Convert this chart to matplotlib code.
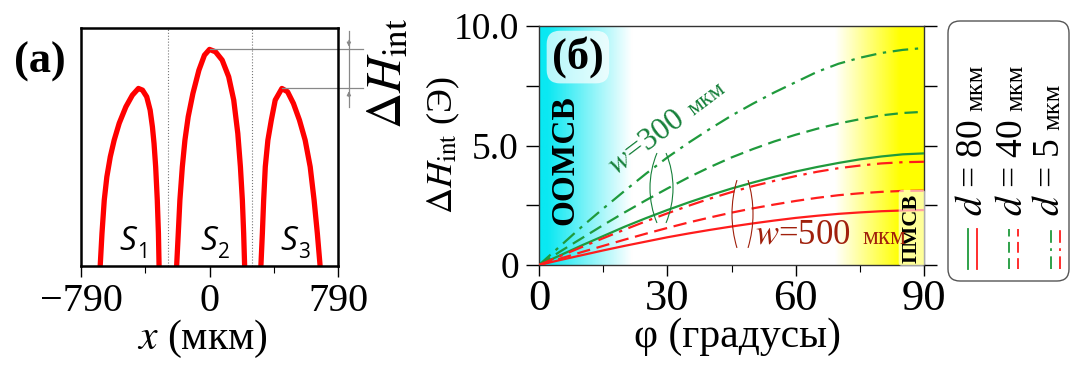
import numpy as np
import matplotlib
matplotlib.use("Agg")
import matplotlib.pyplot as plt
import matplotlib.transforms as mtransforms
from matplotlib.colors import LinearSegmentedColormap
from matplotlib.patches import Arc, FancyBboxPatch
from matplotlib.lines import Line2D

plt.rcParams['font.family'] = ['Liberation Serif', 'DejaVu Serif']
plt.rcParams['mathtext.fontset'] = 'stix'

# ---- panel (a): field profiles over the three strips (x in um, normalised H)
s1_x = [-672, -661, -647, -631, -610, -586, -555, -514, -474, -437, -412, -386,
        -365, -351, -341, -331, -321, -314, -310]
s1_y = [0, 0.137, 0.277, 0.375, 0.459, 0.529, 0.600, 0.669, 0.718, 0.746, 0.739,
        0.711, 0.655, 0.585, 0.515, 0.417, 0.277, 0.137, 0]
s2_x = [-202, -192, -182, -167, -151, -131, -102, -65, -31, 0, 37, 78, 118, 149,
        174, 190, 202, 210, 216]
s2_y = [0, 0.137, 0.277, 0.417, 0.529, 0.627, 0.725, 0.823, 0.886, 0.910, 0.900,
        0.865, 0.795, 0.697, 0.557, 0.417, 0.277, 0.137, 0]
s3_x = [316, 325, 333, 343, 359, 380, 404, 445, 480, 516, 553, 588, 619, 643, 663, 680]
s3_y = [0, 0.137, 0.277, 0.417, 0.529, 0.613, 0.697, 0.746, 0.732, 0.683, 0.613,
        0.529, 0.417, 0.277, 0.137, 0]
strip_labels = ['1', '2', '3']
strip_gaps = [-257, 263]

# ---- panel (b): dH_int vs angle phi (degrees)
phi = [0, 5, 10, 15, 20, 25, 30, 35, 40, 45, 50, 55, 60, 65, 70, 75, 80, 85, 90]
green_80 = [0, 0.41, 0.82, 1.21, 1.6, 1.96, 2.3, 2.62, 2.92, 3.2, 3.45, 3.69, 3.91,
            4.1, 4.27, 4.42, 4.54, 4.63, 4.67]
green_40 = [0, 0.57, 1.12, 1.67, 2.2, 2.71, 3.2, 3.67, 4.1, 4.5, 4.85, 5.17, 5.45,
            5.7, 5.92, 6.1, 6.26, 6.36, 6.41]
green_5 = [0, 0.8, 1.6, 2.36, 3.1, 3.82, 4.5, 5.12, 5.7, 6.25, 6.75, 7.22, 7.65,
           8.08, 8.42, 8.67, 8.87, 9.0, 9.08]
red_80 = [0, 0.21, 0.41, 0.61, 0.8, 0.98, 1.16, 1.32, 1.47, 1.61, 1.74, 1.86, 1.97,
          2.06, 2.14, 2.2, 2.25, 2.28, 2.30]
red_40 = [0, 0.27, 0.54, 0.8, 1.06, 1.31, 1.55, 1.78, 1.99, 2.19, 2.37, 2.53, 2.68,
          2.81, 2.92, 3.0, 3.06, 3.1, 3.11]
red_5 = [0, 0.38, 0.75, 1.12, 1.48, 1.83, 2.16, 2.48, 2.78, 3.05, 3.3, 3.52, 3.72,
         3.9, 4.05, 4.16, 4.25, 4.3, 4.32]
d_labels = ['80', '40', '5']

GREEN = '#1f9a3c'
RED = '#ff1c1c'
styles = ['-', (0, (6, 3)), (0, (7, 3, 1.5, 3))]

W, H = 1072, 365
fig = plt.figure(figsize=(W / 100, H / 100), dpi=100)
T = fig.dpi_scale_trans


def fx(px):
    return px / W


def fy(py):
    return 1 - py / H


def inch(px, py):
    return px / 100, (H - py) / 100


# ================= panel (a)
axa = fig.add_axes([fx(81), fy(266), 257 / W, 238 / H])
for xs, ys in [(s1_x, s1_y), (s2_x, s2_y), (s3_x, s3_y)]:
    axa.plot(xs, ys, color='#ff0000', lw=3.8, solid_joinstyle='round')
for g in strip_gaps:
    axa.axvline(g, color='#777777', ls=':', lw=0.8)
axa.set_xlim(-790, 790)
axa.set_ylim(0, 1)
axa.set_xticks([-790, 0, 790])
axa.set_xticklabels(['\u2212790', '0', '790'])
axa.set_xticks([-395, 395], minor=True)
axa.set_yticks([])
axa.tick_params(axis='x', which='major', length=8, width=1, labelsize=29, pad=4)
axa.tick_params(axis='x', which='minor', length=5, width=0.8)
for sp in axa.spines.values():
    sp.set_linewidth(1.8)
axa.set_xlabel(r'$x$ (мкм)', fontsize=30)
axa.xaxis.set_label_coords((202 - 81) / 257, (266 - 318) / 238)

# strip labels
for xs, lab in zip([s1_x, s2_x, s3_x], strip_labels):
    xc = (xs[0] + xs[-1]) / 2
    axa.text(xc + 40, 0.067, 'S', fontfamily='Open Sans', fontsize=24,
             style='italic', ha='right', va='baseline')
    axa.text(xc + 45, 0.034, lab, fontfamily='Open Sans', fontsize=15,
             ha='left', va='baseline')

# dH_int marker
i2 = int(np.argmax(s2_y))
i3 = int(np.argmax(s3_y))
xr = 943
xv = 857
axa.plot([s2_x[i2], xr], [s2_y[i2]] * 2, color='#888888', lw=0.9, clip_on=False)
axa.plot([s3_x[i3], xr], [s3_y[i3]] * 2, color='#888888', lw=0.9, clip_on=False)
axa.plot([xv, xv], [0.987, 0.668], color='#888888', lw=0.9, clip_on=False)
axa.annotate('', xy=(xv, s2_y[i2]), xytext=(xv, 0.96), annotation_clip=False,
             arrowprops=dict(arrowstyle='-|>', color='#888888', lw=0.8, mutation_scale=6))
axa.annotate('', xy=(xv, s3_y[i3]), xytext=(xv, 0.70), annotation_clip=False,
             arrowprops=dict(arrowstyle='-|>', color='#888888', lw=0.8, mutation_scale=6))
fig.text(*inch(388, 73), r'$\Delta H_{\rm int}$', transform=T, fontsize=36,
         rotation=90, ha='center', va='center')
fig.text(*inch(40, 62), '(a)', transform=T, fontsize=32, fontweight='bold',
         ha='center', va='center')

# ================= panel (b)
axb = fig.add_axes([fx(539), fy(265), 385 / W, 239 / H])
bg = LinearSegmentedColormap.from_list('bg', [
    (0.0, '#0ae8f2'), (0.02, '#0ae8f2'), (0.24, '#ffffff'),
    (0.77, '#ffffff'), (0.94, '#ffff00'), (1.0, '#ffff00')])
axb.imshow(np.linspace(0, 1, 512).reshape(1, -1), cmap=bg, aspect='auto',
           extent=[0, 90, 0, 10], zorder=0)

series = [(green_80, GREEN, 0), (green_40, GREEN, 1), (green_5, GREEN, 2),
          (red_80, RED, 0), (red_40, RED, 1), (red_5, RED, 2)]
for ys, c, k in series:
    axb.plot(phi, ys, color=c, ls=styles[k], lw=1.6, zorder=3)

axb.set_xlim(0, 90)
axb.set_ylim(0, 10)
axb.set_xticks([0, 30, 60, 90])
axb.set_xticks([15, 45, 75], minor=True)
axb.set_yticks([0, 5, 10])
axb.set_yticklabels(['0', '5.0', '10.0'])
axb.set_yticks([2.5, 7.5], minor=True)
axb.tick_params(axis='x', which='major', length=8, width=1, labelsize=32, pad=2)
axb.tick_params(axis='x', which='minor', length=5, width=0.8)
axb.tick_params(axis='y', which='both', length=9.5, width=1, labelsize=27,
                pad=5, right=True)
for sp in axb.spines.values():
    sp.set_linewidth(1.0)
    sp.set_color('#333333')
axb.set_xlabel('φ (градусы)', fontsize=30)
axb.xaxis.set_label_coords((738 - 539) / 385, (265 - 318) / 239)
axb.set_ylabel(r'$\Delta H_{\rm int}$ (Э)', fontsize=26)
axb.yaxis.set_label_coords((462 - 539) / 385, 0.5)

axb.text(9.1, 8.7, '(б)', fontsize=32, fontweight='bold', ha='center', va='center',
         bbox=dict(boxstyle='round,pad=0.12,rounding_size=0.3', fc='white', ec='none', alpha=0.7),
         zorder=4)
axb.text(6.1, 4.39, 'ООМСВ', fontsize=24, fontweight='bold', rotation=90,
         ha='center', va='center', zorder=4)
axb.text(87.2, 1.55, 'ПМСВ', fontsize=16, fontweight='bold', rotation=90,
         ha='center', va='center', zorder=4,
         bbox=dict(boxstyle='round,pad=0.15', fc='white', ec='none', alpha=0.6))

# width labels
DKGREEN = '#16803a'
DKRED = '#a0200c'
axb.text(17.8, 3.77, r'$w$=300', fontsize=23, color=DKGREEN, rotation=37,
         rotation_mode='anchor', ha='left', va='baseline', zorder=4)
tr = mtransforms.offset_copy(axb.transData, fig=fig, x=78, y=59, units='dots')
axb.text(17.8, 3.77, 'мкм', fontsize=17, color=DKGREEN, rotation=37,
         rotation_mode='anchor', ha='left', va='baseline', transform=tr, zorder=4)
axb.text(50.5, 0.88, r'$w$=500', fontsize=25, color=DKRED, ha='left',
         va='baseline', zorder=4)
axb.text(75.5, 0.88, 'мкм', fontsize=18, color=DKRED, ha='left',
         va='baseline', zorder=4)

# lens-shaped brackets
for (cxl, cxr, cy, R, ang, col) in [(741, 582, 188, 91, 22.6, DKGREEN),
                                    (850, 635, 214, 118, 16.7, DKRED)]:
    d = 2 * R / 100
    fig.add_artist(Arc(inch(cxl, cy), d, d, theta1=180 - ang, theta2=180 + ang,
                       transform=T, color=col, lw=0.8))
    fig.add_artist(Arc(inch(cxr, cy), d, d, theta1=-ang, theta2=ang,
                       transform=T, color=col, lw=0.8))

# ================= legend (rotated)
fig.add_artist(FancyBboxPatch(inch(948, 281), 1.21, 2.60,
                              boxstyle='round,pad=0,rounding_size=0.12',
                              transform=T, fc='white', ec='#555555', lw=1.0))
col_base = [982, 1022, 1059]
line_x = [(968, 977), (1009, 1018), (1051, 1060)]
heads = []
for k in range(3):
    heads.append(fig.text(*inch(col_base[k], 216), r'$d$ = ' + d_labels[k],
                          transform=T, fontsize=27, rotation=90,
                          rotation_mode='anchor', ha='left', va='baseline'))
    for xpx, c in zip(line_x[k], [GREEN, RED]):
        fig.add_artist(Line2D([xpx / 100] * 2, [(H - 269) / 100, (H - 229) / 100],
                              transform=T, color=c, ls=styles[k], lw=1.3))

fig.canvas.draw()
rend = fig.canvas.get_renderer()
for k, t in enumerate(heads):
    bb = t.get_window_extent(rend)
    fig.text(*inch(col_base[k], H - bb.y1 - 8), 'мкм', transform=T,
             fontsize=19, rotation=90, rotation_mode='anchor',
             ha='left', va='baseline')

fig.savefig('out.png', dpi=100)
